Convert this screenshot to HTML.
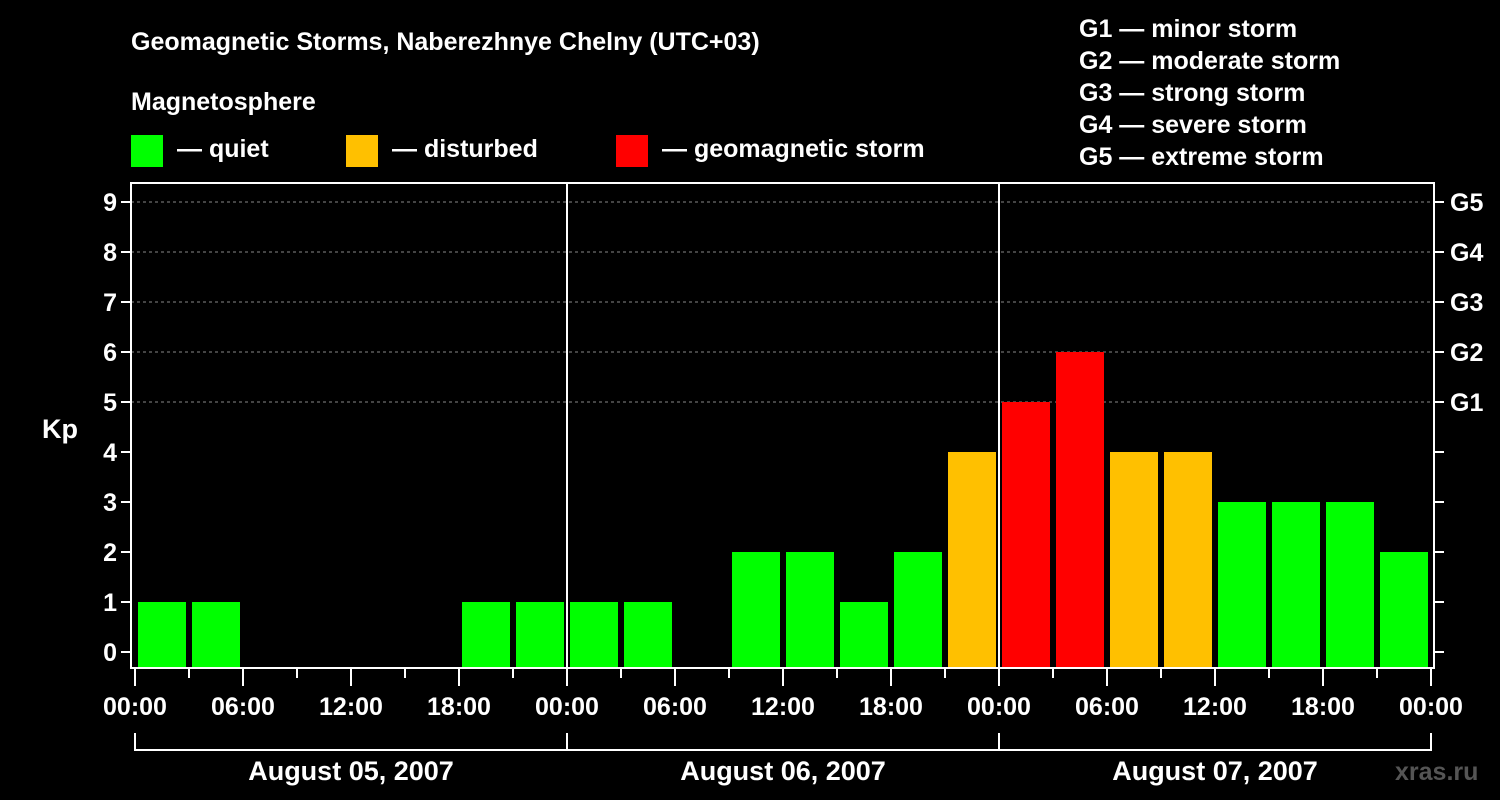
<!DOCTYPE html>
<html><head><meta charset="utf-8"><style>
html,body{margin:0;padding:0;background:#000;width:1500px;height:800px;overflow:hidden}
svg text{font-family:"Liberation Sans",Arial,sans-serif;font-weight:bold;fill:#fff}
</style></head><body>
<svg id="chart" width="1500" height="800" xmlns="http://www.w3.org/2000/svg">
<text x="131" y="50" font-size="25">Geomagnetic Storms, Naberezhnye Chelny (UTC+03)</text>
<text x="131" y="110" font-size="25">Magnetosphere</text>
<rect x="131" y="135" width="32" height="32" fill="#00ff00"/>
<text x="177" y="157" font-size="25">— quiet</text>
<rect x="346" y="135" width="32" height="32" fill="#ffc000"/>
<text x="392" y="157" font-size="25">— disturbed</text>
<rect x="616" y="135" width="32" height="32" fill="#ff0000"/>
<text x="662" y="157" font-size="25">— geomagnetic storm</text>
<g font-size="25">
<text x="1079" y="37">G1 — minor storm</text>
<text x="1079" y="69">G2 — moderate storm</text>
<text x="1079" y="101">G3 — strong storm</text>
<text x="1079" y="133">G4 — severe storm</text>
<text x="1079" y="165">G5 — extreme storm</text>
</g>
<text x="42" y="438" font-size="27">Kp</text>
<text x="1395" y="780" font-size="25" fill="#555" style="fill:#555">xras.ru</text>
<g id="plot"></g>
</svg>
<script>
const kpValues=[1,1,0,0,0,0,1,1, 1,1,0,2,2,1,2,4, 5,6,4,4,3,3,3,2];
const yTicks=[0,1,2,3,4,5,6,7,8,9];
const gLabels=["G1","G2","G3","G4","G5"];
const gLevels=[5,6,7,8,9];
const timeLabels=["00:00","06:00","12:00","18:00","00:00","06:00","12:00","18:00","00:00","06:00","12:00","18:00","00:00"];
const dayLabels=["August 05, 2007","August 06, 2007","August 07, 2007"];
const NS="http://www.w3.org/2000/svg";
const g=document.getElementById('plot');
const L=131,R=1434,T=183,B=668,X0=135,PXH=18; // px per hour
const x=h=>X0+h*PXH;
const y=v=>652-v*50;
function mk(t,a){const e=document.createElementNS(NS,t);for(const k in a)e.setAttribute(k,a[k]);g.appendChild(e);return e;}
// grid
yTicks.forEach(v=>{
 if(v>=5){const l=mk('line',{x1:L,x2:R,y1:y(v),y2:y(v),stroke:'#888','stroke-dasharray':'3,3','stroke-width':1});
 
 }
 const t1=mk('line',{x1:L-10,x2:L,y1:y(v),y2:y(v),stroke:'#fff','stroke-width':2});
 
 
 const t2=mk('line',{x1:R,x2:R+10,y1:y(v),y2:y(v),stroke:'#fff','stroke-width':2});
 
 
 const tx=mk('text',{x:L-14,y:y(v)+9,'font-size':25,'text-anchor':'end'});tx.textContent=v;
 
 
});
gLabels.forEach((s,i)=>{const tx=mk('text',{x:R+16,y:y(gLevels[i])+9,'font-size':25});tx.textContent=s;
 
 });
// bars
kpValues.forEach((v,i)=>{
 if(v<=0)return;
 const c=v>=5?'#ff0000':(v>=4?'#ffc000':'#00ff00');
 const r=mk('rect',{x:x(i*3)+3,y:y(v),width:48,height:B-1-y(v),fill:c});
 
 
});
// day separators
for(let d=1;d<3;d++){const l=mk('line',{x1:x(d*24),x2:x(d*24),y1:T,y2:B,stroke:'#fff','stroke-width':2});
 
 }
// frame
const fr=mk('rect',{x:L,y:T,width:R-L,height:B-T,fill:'none',stroke:'#fff','stroke-width':2});


// x ticks
for(let h=0;h<=72;h+=3){
 const long=h%6===0;
 const l=mk('line',{x1:x(h),x2:x(h),y1:B,y2:long?686:678,stroke:'#fff','stroke-width':2});
 
 
}
timeLabels.forEach((s,i)=>{const tx=mk('text',{x:x(i*6),y:715,'font-size':25,'text-anchor':'middle'});tx.textContent=s;
 
 });
dayLabels.forEach((s,i)=>{
 const p=mk('path',{d:`M${x(i*24)},733 V750 H${x(i*24+24)} V733`,fill:'none',stroke:'#fff','stroke-width':2});
 
 
 const tx=mk('text',{x:x(i*24+12),y:780,'font-size':27,'text-anchor':'middle'});tx.textContent=s;
 
 
});
</script>
</body></html>
